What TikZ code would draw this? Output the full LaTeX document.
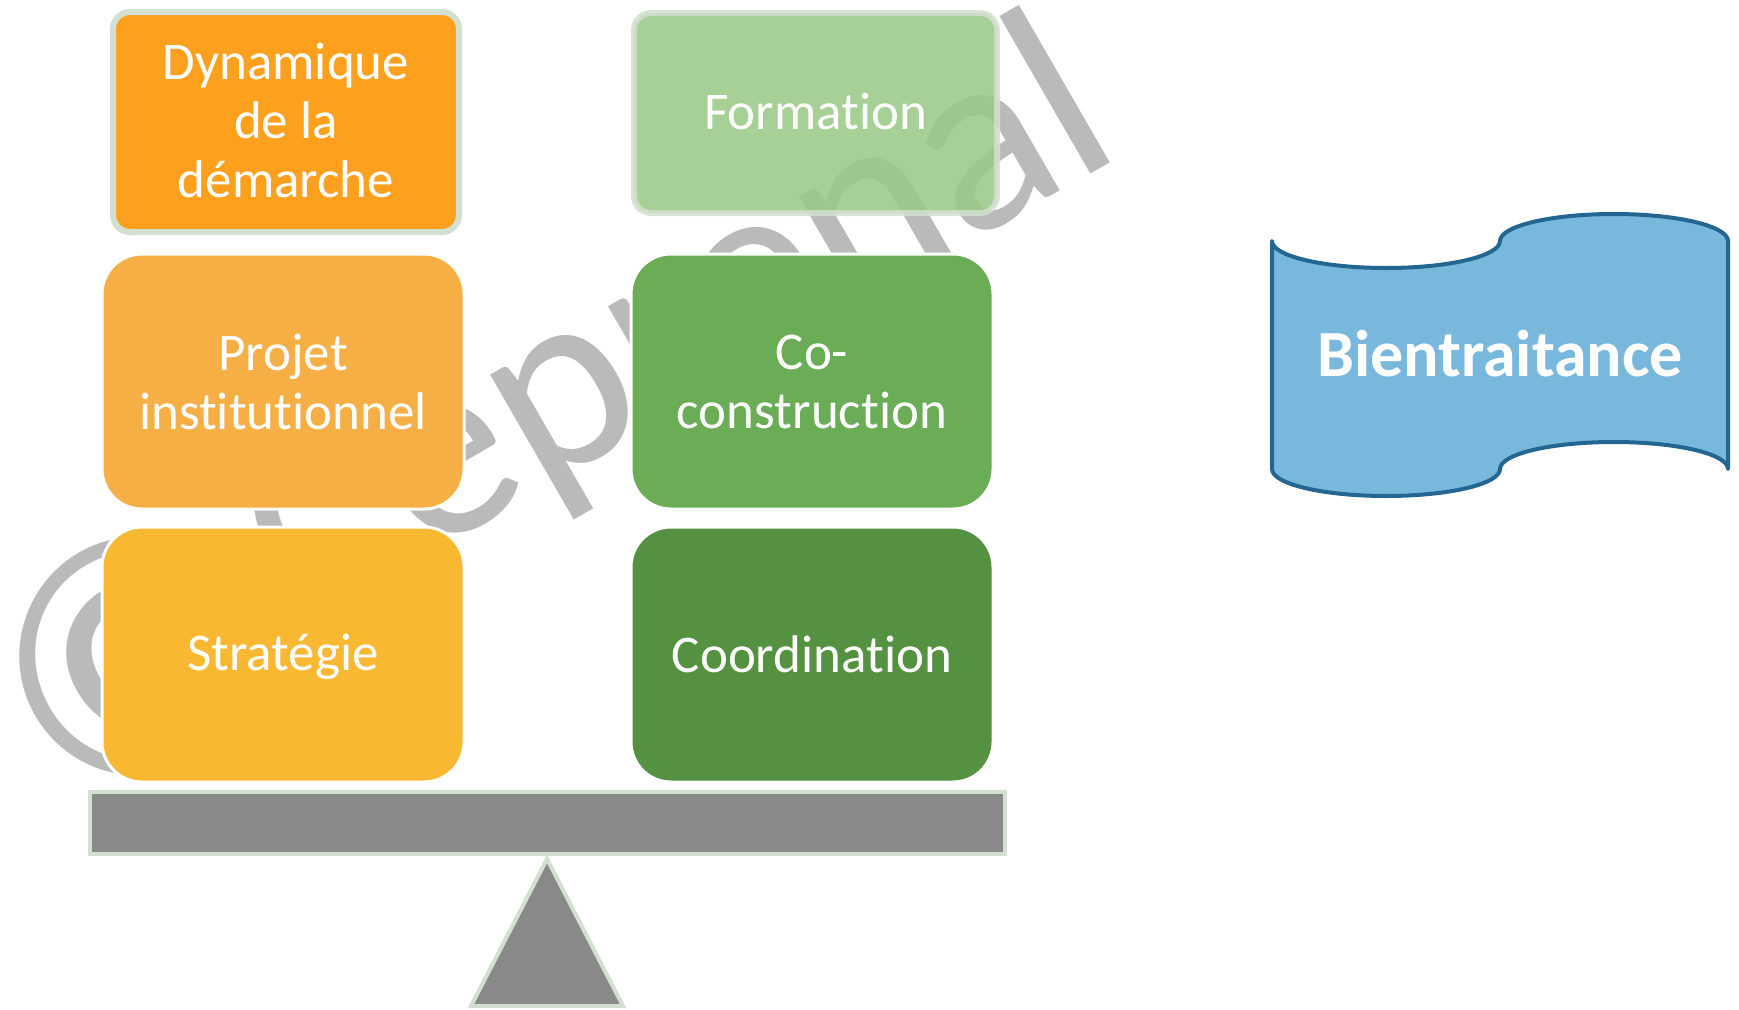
\documentclass[tikz,border=0pt]{standalone}
\usepackage{fontspec}
\setmainfont[Ligatures=NoCommon]{Carlito}
\definecolor{dynorange}{HTML}{FCA01E}
\definecolor{projorange}{HTML}{F5AF45}
\definecolor{stratyellow}{HTML}{F9B832}
\definecolor{formgreen}{HTML}{99CA86}
\definecolor{cogreen}{HTML}{6AAD56}
\definecolor{coordgreen}{HTML}{549140}
\definecolor{paleedge}{HTML}{D3DFD0}
\definecolor{beamgrey}{HTML}{898989}
\definecolor{markgrey}{HTML}{BABABA}
\definecolor{bannerfill}{HTML}{79B8DD}
\definecolor{bannerline}{HTML}{236692}
% shift a text vertically inside its node without changing the node's size
\newcommand{\nudge}[2]{\raisebox{#1}[\height][\depth]{#2}}
\begin{document}
\begin{tikzpicture}[x=1pt,y=-1pt,
  boxtext/.style={text=white, font=\fontsize{53}{59}\selectfont, align=center},
  tile/.style={boxtext, rounded corners=40pt, draw=white, line width=3pt,
    minimum width=362pt, minimum height=255pt, inner sep=0pt},
  framedtile/.style={boxtext, rounded corners=17pt, draw=paleedge, line width=6pt,
    inner sep=0pt},
  stand/.style={fill=beamgrey, draw=paleedge, line width=4pt},
  wmtext/.style={text=markgrey, rotate=30, inner sep=0pt, outer sep=0pt}
]
\useasboundingbox (0,0) rectangle (1739,1009);
\fill[white] (0,0) rectangle (1739,1009);

% copyright mark behind the blocks
\node[wmtext, font=\fontsize{347}{347}\selectfont, anchor=center] (copy) at (139,657) {©};
\node[wmtext, font=\fontsize{262}{262}\selectfont, anchor=base east] (wm) at (1126,153) {Ceprenal};

% left column
\node[framedtile, fill=dynorange, minimum width=346pt, minimum height=220pt]
  (dyn) at (286,122) {\nudge{-4.5pt}{\begin{tabular}{@{}c@{}}Dynamique\\de la\\démarche\end{tabular}}};
\node[tile, fill=projorange] (proj) at (283,381.5) {Projet\\institutionnel};
\node[tile, fill=stratyellow] (strat) at (283,654.5) {\nudge{-2pt}{Stratégie}};

% right column
\node[framedtile, draw opacity=0.85, fill=formgreen, fill opacity=0.87, text opacity=1,
  minimum width=363pt, minimum height=200pt] (form) at (815.5,113) {\nudge{2pt}{Formation}};
\node[tile, fill=cogreen] (co) at (812,381.5) {Co-\\construction};
\node[tile, fill=coordgreen] (coord) at (812,654.5) {Coordination};

% balance beam and pivot
\node[stand, minimum width=915pt, minimum height=62pt, inner sep=0pt] (beam) at (547.5,823) {};
\coordinate (apex) at (547,859);
\draw[stand, line join=miter] (apex) -- (471,1006) -- (623,1006) -- cycle;

% banner
\draw[fill=bannerfill, draw=bannerline, line width=4pt, line join=round]
  (1272,241) .. controls (1272,256) and (1323,268) .. (1386,268)
  .. controls (1449,268) and (1500,256) .. (1500,241)
  .. controls (1500,226) and (1551,214) .. (1614,214)
  .. controls (1677,214) and (1728,226) .. (1728,241)
  -- (1728,469)
  .. controls (1728,454) and (1677,442) .. (1614,442)
  .. controls (1551,442) and (1500,454) .. (1500,469)
  .. controls (1500,484) and (1449,496) .. (1386,496)
  .. controls (1323,496) and (1272,484) .. (1272,469)
  -- cycle;
\node[text=white, font=\bfseries\fontsize{66}{66}\selectfont, anchor=base,
  inner sep=0pt] (bien) at (1500,376) {Bientraitance};
\end{tikzpicture}
\end{document}
